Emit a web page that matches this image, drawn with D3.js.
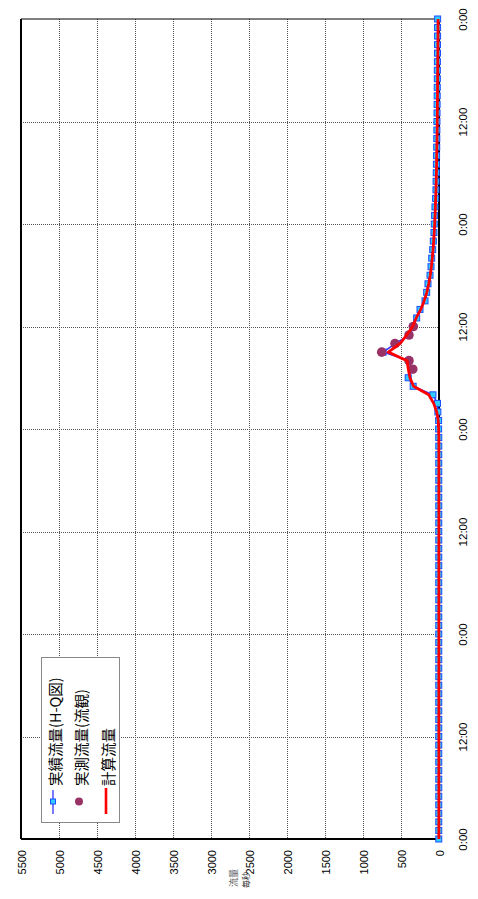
<!DOCTYPE html>
<html><head><meta charset="utf-8">
<script src="https://cdn.jsdelivr.net/npm/d3@7"></script>
<style>body{margin:0;background:#fff}svg{display:block}</style>
</head><body>
<svg id="c" width="478" height="899"></svg>
<script>
// ---- data ----
const hours = d3.range(0, 97); // hourly timestamps, 0..96 h
const hqFlow = [
  3,3,3,3,3,3,3,3,3,3,3,3,3,3,3,3,3,3,3,3,3,3,3,3,
  3,3,3,3,3,3,3,3,3,3,3,3,3,3,3,3,3,3,3,3,3,3,3,3,
  5,5,15,20,80,340,405,355,395,735,575,395,340,294,250,184,162,145,118,105,96,83,75,66,
  62,58,53,45,40,38,36,34,32,30,29,28,27,26,25,24,23,22,22,21,20,20,19,19,
  18
];
const calcFlow = [
  2,2,2,2,2,2,2,2,2,2,2,2,2,2,2,2,2,2,2,2,2,2,2,2,
  2,2,2,2,2,2,2,2,2,2,2,2,2,2,2,2,2,2,2,2,2,2,2,2,
  5,10,30,70,135,335,382,404,420,667,513,425,346,300,240,195,160,135,115,100,88,78,70,63,
  57,52,48,44,40,37,34,32,30,28,26,24,23,22,21,20,19,18,17,16,15,14,13,13,
  12
];
const obsHours = [55,56,57,58,59,60];
const obsFlow = [345,395,754,579,395,338];
const valueTicks = [0,500,1000,1500,2000,2500,3000,3500,4000,4500,5000,5500];
const timeTicks = [0,12,24,36,48,60,72,84,96];
const timeTickLabels = ["0:00","12:00","0:00","12:00","0:00","12:00","0:00","12:00","0:00"];
const legendLabels = ["実績流量(H-Q図)","実測流量(流観)","計算流量"];

// ---- layout ----
const svg = d3.select("#c");
const L = 21, R = 439, T = 19, B = 839;
const x = d3.scaleLinear().domain([0,5500]).range([R, L]);
const y = d3.scaleLinear().domain([0,96]).range([B, T]);
const numFont = "'Liberation Sans', Arial, sans-serif";
const jpFont = "'Noto Sans CJK JP', sans-serif";

svg.append("rect").attr("width",478).attr("height",899).attr("fill","#fff");

// gridlines
const grid = svg.append("g").attr("stroke","#555").attr("stroke-width",1).attr("stroke-dasharray","1,1");
grid.selectAll(".gv").data(valueTicks.filter(v=>v>0 && v<5500)).join("line")
  .attr("x1",d=>Math.round(x(d))+0.5).attr("x2",d=>Math.round(x(d))+0.5).attr("y1",T).attr("y2",B);
grid.selectAll(".gh").data(timeTicks.filter(v=>v>0 && v<96)).join("line")
  .attr("y1",d=>Math.round(y(d))+0.5).attr("y2",d=>Math.round(y(d))+0.5).attr("x1",L).attr("x2",R);

// frame
svg.append("line").attr("x1",L).attr("x2",R).attr("y1",T).attr("y2",T).attr("stroke","#000").attr("stroke-width",1.2);
svg.append("line").attr("x1",L).attr("x2",L).attr("y1",T).attr("y2",B).attr("stroke","#000").attr("stroke-width",2);
svg.append("line").attr("x1",L).attr("x2",R).attr("y1",B).attr("y2",B).attr("stroke","#000").attr("stroke-width",2);
svg.append("line").attr("x1",R).attr("x2",R).attr("y1",T).attr("y2",B).attr("stroke","#000").attr("stroke-width",2);

// value axis (bottom, rotated labels)
const ax = svg.append("g").attr("transform",`translate(0,${B})`)
  .call(d3.axisBottom(x).tickValues(valueTicks).tickSize(0).tickFormat(d3.format("d")));
ax.select(".domain").remove();
ax.selectAll("text")
  .attr("font-family",numFont).attr("font-size",11).attr("fill","#000")
  .attr("text-anchor","end").attr("dominant-baseline","central")
  .attr("x",0).attr("y",11).attr("dy",null)
  .attr("transform","rotate(-90,0,11)");

// time axis (right, rotated labels)
const at = svg.append("g").attr("transform",`translate(${R},0)`)
  .call(d3.axisRight(y).tickValues(timeTicks).tickSize(0).tickFormat((d,i)=>timeTickLabels[i]));
at.select(".domain").remove();
at.selectAll("text")
  .attr("font-family",numFont).attr("font-size",11.5).attr("fill","#000")
  .attr("text-anchor","middle").attr("dominant-baseline","central")
  .attr("x",24).attr("dy",null)
  .attr("transform","rotate(-90,24,0)");

// axis title (small, garbled in original)
svg.append("text").attr("x",233).attr("y",878).attr("font-family",jpFont).attr("font-size",9).attr("fill","#555")
  .attr("text-anchor","middle").attr("dominant-baseline","central").attr("transform","rotate(-90,233,878)").text("流量");
svg.append("text").attr("x",245).attr("y",880).attr("font-family",jpFont).attr("font-size",8).attr("fill","#222")
  .attr("text-anchor","middle").attr("dominant-baseline","central").attr("transform","rotate(-90,245,880)").text("毎秒");

// series
const hq = hours.map((h,i)=>({t:h,v:hqFlow[i]}));
const calc = hours.map((h,i)=>({t:h,v:calcFlow[i]}));
const obs = obsHours.map((h,i)=>({t:h,v:obsFlow[i]}));
const line = d3.line().x(d=>x(d.v)).y(d=>y(d.t));

svg.append("path").datum(hq).attr("d",line).attr("fill","none").attr("stroke","#3333ff").attr("stroke-width",1.5);
svg.selectAll(".sq").data(hq).join("rect")
  .attr("x",d=>x(d.v)-3).attr("y",d=>y(d.t)-3).attr("width",6).attr("height",6)
  .attr("fill","#33ccff").attr("stroke","#1a4dff").attr("stroke-width",1);
svg.selectAll(".ob").data(obs).join("circle")
  .attr("cx",d=>x(d.v)).attr("cy",d=>y(d.t)).attr("r",4.8).attr("fill","#993366");
svg.append("path").datum(calc).attr("d",line).attr("fill","none").attr("stroke","#ff0000").attr("stroke-width",2.8).attr("stroke-linejoin","round");

// legend
const lg = svg.append("g");
lg.append("rect").attr("x",41.5).attr("y",657.5).attr("width",78).attr("height",165)
  .attr("fill","#fff").attr("stroke","#888").attr("stroke-width",1);
const lx = [53,79,106];
lg.append("line").attr("x1",lx[0]).attr("x2",lx[0]).attr("y1",790).attr("y2",814).attr("stroke","#4d4dff").attr("stroke-width",1.5);
lg.append("rect").attr("x",lx[0]-2.5).attr("y",799).attr("width",5).attr("height",5).attr("fill","#33ccff").attr("stroke","#1a4dff");
lg.append("circle").attr("cx",lx[1]).attr("cy",801.5).attr("r",4).attr("fill","#993366");
lg.append("line").attr("x1",lx[2]).attr("x2",lx[2]).attr("y1",788).attr("y2",814).attr("stroke","#ff0000").attr("stroke-width",2.6);
lg.selectAll(".lt").data(legendLabels).join("text")
  .attr("x",(d,i)=>lx[i]+1).attr("y",786)
  .attr("font-family",jpFont).attr("font-size",14.5).attr("fill","#000")
  .attr("text-anchor","start").attr("dominant-baseline","central")
  .attr("transform",(d,i)=>`rotate(-90,${lx[i]+1},786)`)
  .text(d=>d);
</script>
</body></html>
